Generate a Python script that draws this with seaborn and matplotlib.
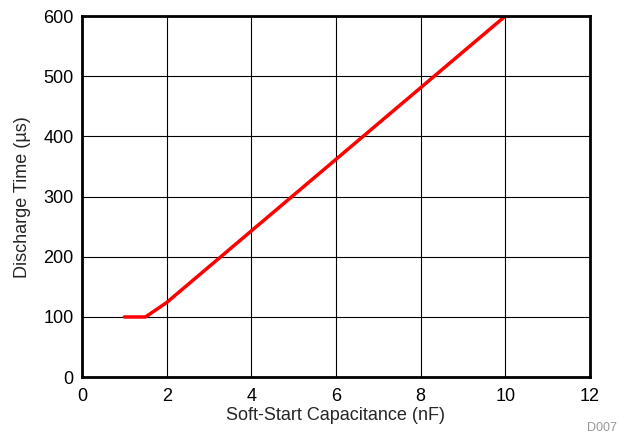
import matplotlib
matplotlib.use('Agg')
import matplotlib.pyplot as plt
import seaborn as sns
import pandas as pd

# Data
capacitance_nf = [1.0, 1.5, 2.0, 4.0, 6.0, 8.0, 10.0]
discharge_us = [100, 100, 124, 243, 362, 481, 600]

df = pd.DataFrame({'cap': capacitance_nf, 'time': discharge_us})

sns.set_style('white')
plt.rcParams['font.family'] = ['Liberation Sans', 'DejaVu Sans']

fig = plt.figure(figsize=(6.19, 4.36), dpi=100)
ax = fig.add_axes([0.1325, 0.135, 0.8205, 0.828])

sns.lineplot(data=df, x='cap', y='time', color='#ff0000', linewidth=2.5, ax=ax)

ax.set_xlim(0, 12)
ax.set_ylim(0, 600)
ax.set_xticks(range(0, 13, 2))
ax.set_yticks(range(0, 601, 100))
ax.grid(True, color='black', linewidth=0.8)
ax.set_axisbelow(True)
for s in ax.spines.values():
    s.set_color('black')
    s.set_linewidth(2)
ax.tick_params(labelsize=13, length=0, colors='black')
ax.tick_params(axis='x', pad=8)
ax.tick_params(axis='y', pad=6)

ax.set_xlabel('Soft-Start Capacitance (nF)', fontsize=13, labelpad=1)
ax.set_ylabel('Discharge Time (µs)', fontsize=13, labelpad=9)

fig.text(0.997, 0.005, 'D007', ha='right', va='bottom', fontsize=9, color='#999999')

plt.savefig('out.png', dpi=100)
plt.close()
